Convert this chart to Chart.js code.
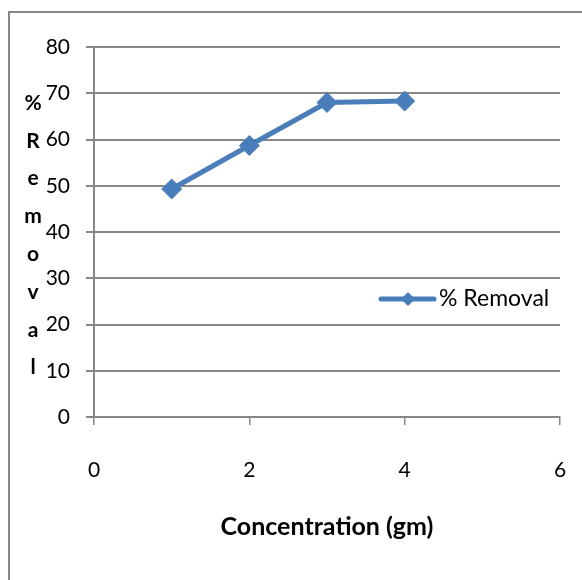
<!DOCTYPE html>
<html>
<head>
<meta charset="utf-8">
<script src="https://cdn.jsdelivr.net/npm/chart.js@4"></script>
<style>
    html, body { margin: 0; padding: 0; background: #fff; }
    #wrap { width: 582px; height: 580px; }
</style>
</head>
<body>
<div id="wrap"><canvas id="removal-chart" width="582" height="580"></canvas></div>
<script>
"use strict";

const concentration = [1, 2, 3, 4];
const removal = [49.3, 58.7, 68.0, 68.3];
const xTicks = [0, 2, 4, 6];
const yTicks = [0, 10, 20, 30, 40, 50, 60, 70, 80];
const seriesName = '% Removal';
const xTitle = 'Concentration (gm)';
const yTitle = '% Removal';

const lineColor = '#4A7EBB';
const gridColor = '#878787';
const fontFamily = 'Lato, "Open Sans", sans-serif';

// frame, stacked y title and legend are drawn by hand
const decorations = {
    id: 'decorations',
    beforeDraw: (chart) => {
        const ctx = chart.ctx;
        ctx.save();
        ctx.fillStyle = '#ffffff';
        ctx.fillRect(0, 0, chart.width, chart.height);
        ctx.restore();
    },
    afterDraw: (chart) => {
        const ctx = chart.ctx;
        ctx.save();

        ctx.strokeStyle = gridColor;
        ctx.lineWidth = 2;
        ctx.strokeRect(9, 12, 700, 700);

        // y title, one letter per line
        ctx.fillStyle = '#000';
        ctx.font = 'bold 21px ' + fontFamily;
        ctx.textAlign = 'center';
        ctx.textBaseline = 'middle';
        const letters = yTitle.replace(' ', '').split('');
        letters.forEach((ch, i) => {
            ctx.fillText(ch, 33, 103 + i * 37.8);
        });

        // legend
        const ly = 299;
        ctx.strokeStyle = lineColor;
        ctx.lineWidth = 5;
        ctx.lineCap = 'round';
        ctx.beginPath();
        ctx.moveTo(381, ly);
        ctx.lineTo(434, ly);
        ctx.stroke();
        ctx.fillStyle = lineColor;
        ctx.beginPath();
        ctx.moveTo(408 - 7, ly);
        ctx.lineTo(408, ly - 7);
        ctx.lineTo(408 + 7, ly);
        ctx.lineTo(408, ly + 7);
        ctx.closePath();
        ctx.fill();
        ctx.fillStyle = '#000';
        ctx.font = '23px ' + fontFamily;
        ctx.textAlign = 'left';
        ctx.fillText(seriesName, 439, ly);

        ctx.restore();
    }
};

const ctx = document.getElementById('removal-chart').getContext('2d');
new Chart(ctx, {
    type: 'line',
    data: {
        datasets: [{
            label: seriesName,
            data: concentration.map((c, i) => ({ x: c, y: removal[i] })),
            borderColor: lineColor,
            backgroundColor: lineColor,
            borderWidth: 5,
            pointStyle: 'rectRot',
            pointRadius: 10,
            pointHoverRadius: 10,
            pointBorderWidth: 1,
            tension: 0
        }]
    },
    options: {
        responsive: false,
        animation: false,
        devicePixelRatio: 1,
        layout: {
            padding: { left: 0, top: 47, right: 22, bottom: 0 }
        },
        plugins: {
            legend: { display: false },
            tooltip: { enabled: false }
        },
        scales: {
            x: {
                type: 'linear',
                min: 0,
                max: 6,
                afterBuildTicks: (scale) => { scale.ticks = xTicks.map(v => ({ value: v })); },
                afterFit: (scale) => {
                    scale.height = 163;
                    scale.paddingLeft = 0;
                    scale.paddingRight = 0;
                },
                grid: {
                    drawOnChartArea: false,
                    color: gridColor,
                    lineWidth: 1.5,
                    tickLength: 8
                },
                border: { display: true, color: gridColor, width: 1.5 },
                ticks: {
                    color: '#000',
                    padding: 33,
                    font: { family: fontFamily, size: 21 }
                },
                title: {
                    display: true,
                    text: xTitle,
                    color: '#000',
                    font: { family: fontFamily, size: 25, weight: 'bold' },
                    padding: { top: 0, bottom: 38 }
                }
            },
            y: {
                min: 0,
                max: 80,
                afterBuildTicks: (scale) => { scale.ticks = yTicks.map(v => ({ value: v })); },
                afterFit: (scale) => { scale.width = 94; },
                grid: {
                    color: gridColor,
                    lineWidth: 2,
                    tickLength: 8
                },
                border: { display: true, color: gridColor, width: 2 },
                ticks: {
                    color: '#000',
                    padding: 16,
                    font: { family: fontFamily, size: 21 }
                }
            }
        }
    },
    plugins: [decorations]
});
</script>
</body>
</html>
